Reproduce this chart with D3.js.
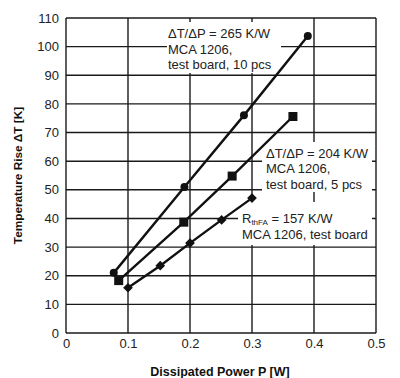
<!DOCTYPE html>
<html><head><meta charset="utf-8">
<script src="https://cdn.jsdelivr.net/npm/d3@7"></script>
<style>
html,body{margin:0;padding:0;background:#fff;}
svg{display:block;font-family:"Liberation Sans",Arial,Helvetica,sans-serif;}
</style></head>
<body><svg id="c" width="400" height="378"></svg>
<script>
// Data
const xTicks = [0, 0.1, 0.2, 0.3, 0.4, 0.5];
const yTicks = [0, 10, 20, 30, 40, 50, 60, 70, 80, 90, 100, 110];
const s10P = [0.077, 0.191, 0.287, 0.390];
const s10T = [21, 51, 76, 103.7];
const s5P = [0.085, 0.190, 0.268, 0.366];
const s5T = [18.3, 38.7, 54.8, 75.6];
const s1P = [0.100, 0.152, 0.200, 0.251, 0.300];
const s1T = [15.8, 23.5, 31.4, 39.5, 47.1];
const xLabel = "Dissipated Power P [W]";
const yLabel = "Temperature Rise \u0394T [K]";

const svg = d3.select("#c");
const L = 66, R = 376, T = 18, B = 333;
const x = d3.scaleLinear().domain([0, 0.5]).range([L, R]);
const y = d3.scaleLinear().domain([0, 110]).range([B, T]);
const ink = "#1a1a1a";

// grid
const g = svg.append("g");
g.selectAll(".vx").data(xTicks).join("line")
  .attr("x1", d => x(d)).attr("x2", d => x(d)).attr("y1", T).attr("y2", B)
  .attr("stroke", ink).attr("stroke-width", 1.4);
g.selectAll(".hy").data(yTicks).join("line")
  .attr("x1", L).attr("x2", R).attr("y1", d => y(d)).attr("y2", d => y(d))
  .attr("stroke", ink).attr("stroke-width", 1.4);

// axes (tick labels)
const xa = svg.append("g").attr("transform", `translate(0,${B})`)
  .call(d3.axisBottom(x).tickValues(xTicks).tickSize(0).tickPadding(6)
    .tickFormat(d => d === 0 ? "0" : d3.format(".1f")(d)));
xa.select(".domain").remove();
xa.selectAll("text").attr("font-size", 13).attr("fill", "#222")
  .attr("font-family", "Liberation Sans, Arial, sans-serif");
const ya = svg.append("g").attr("transform", `translate(${L},0)`)
  .call(d3.axisLeft(y).tickValues(yTicks).tickSize(0).tickPadding(7));
ya.select(".domain").remove();
ya.selectAll("text").attr("font-size", 13).attr("fill", "#222")
  .attr("font-family", "Liberation Sans, Arial, sans-serif");

// annotation boxes (white, masking grid)
function box(x0, y0, x1, y1) {
  svg.append("rect").attr("x", x0).attr("y", y0).attr("width", x1 - x0).attr("height", y1 - y0)
    .attr("fill", "#fff");
}
box(167, 22, 281, 73);
box(262, 142, 372, 192);
box(238, 202, 372, 245);

// annotation text
const fs = 13;
function lines(x0, y0, dy, arr) {
  const t = svg.append("text").attr("x", x0).attr("y", y0).attr("font-size", fs).attr("fill", "#222");
  arr.forEach((s, i) => {
    t.append("tspan").attr("x", x0).attr("y", y0 + i * dy).text(s);
  });
  return t;
}
lines(168, 38, 15.5, ["\u0394T/\u0394P = 265 K/W", "MCA 1206,", "test board, 10 pcs"]);
lines(266, 158, 15.3, ["\u0394T/\u0394P = 204 K/W", "MCA 1206,", "test board, 5 pcs"]);
const t3 = svg.append("text").attr("x", 242).attr("y", 222.5).attr("font-size", fs).attr("fill", "#222");
t3.append("tspan").text("R");
t3.append("tspan").attr("font-size", 8).attr("dy", 2).text("thFA");
t3.append("tspan").attr("dy", -2).text(" = 157 K/W");
svg.append("text").attr("x", 242).attr("y", 238.5).attr("font-size", fs).attr("fill", "#222")
  .text("MCA 1206, test board");

// series lines
const line = d3.line().x(d => x(d[0])).y(d => y(d[1]));
const d10 = s10P.map((p, i) => [p, s10T[i]]);
const d5 = s5P.map((p, i) => [p, s5T[i]]);
const d1 = s1P.map((p, i) => [p, s1T[i]]);
[d10, d5, d1].forEach(d => {
  svg.append("path").datum(d).attr("d", line).attr("fill", "none")
    .attr("stroke", "#111").attr("stroke-width", 2.4);
});
// markers
svg.selectAll(".m10").data(d10).join("circle")
  .attr("cx", d => x(d[0])).attr("cy", d => y(d[1])).attr("r", 4).attr("fill", "#111");
svg.selectAll(".m5").data(d5).join("rect")
  .attr("x", d => x(d[0]) - 4.5).attr("y", d => y(d[1]) - 4.5).attr("width", 9).attr("height", 9)
  .attr("fill", "#111");
svg.selectAll(".m1").data(d1).join("path")
  .attr("d", d3.symbol().type(d3.symbolDiamond2).size(60))
  .attr("transform", d => `translate(${x(d[0])},${y(d[1])})`).attr("fill", "#111");

// axis titles
svg.append("text").attr("x", (L + R) / 2 - 1).attr("y", 376).attr("text-anchor", "middle")
  .attr("font-size", 12.5).attr("font-weight", "bold").attr("fill", "#111").text(xLabel);
svg.append("text").attr("transform", `translate(21.5,${(T + B) / 2}) rotate(-90)`)
  .attr("text-anchor", "middle").attr("font-size", 11.8).attr("font-weight", "bold").attr("fill", "#111")
  .text(yLabel);
</script></body></html>
